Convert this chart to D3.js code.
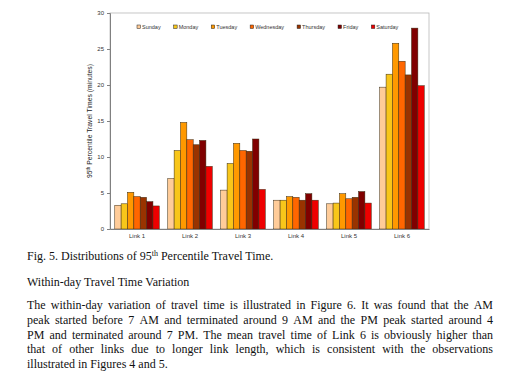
<!DOCTYPE html>
<html>
<head>
<meta charset="utf-8">
<script src="https://cdn.jsdelivr.net/npm/d3@7"></script>
<style>
  body { margin: 0; background: #fff; }
  svg { display: block; }
</style>
</head>
<body>
<div class="chart"></div>
<script>
var svgWidth = 510;
var svgHeight = 383;

// Data
var links = ["Link 1", "Link 2", "Link 3", "Link 4", "Link 5", "Link 6"];
var days = ["Sunday", "Monday", "Tuesday", "Wednesday", "Thursday", "Friday", "Saturday"];
var sunday    = [3.3, 7.0, 5.4, 4.0, 3.5, 19.7];
var monday    = [3.5, 10.9, 9.1, 4.0, 3.6, 21.5];
var tuesday   = [5.1, 14.8, 11.9, 4.5, 4.9, 25.8];
var wednesday = [4.5, 12.4, 10.9, 4.4, 4.2, 23.3];
var thursday  = [4.4, 11.7, 10.8, 4.0, 4.4, 21.4];
var friday    = [3.8, 12.3, 12.5, 4.9, 5.2, 27.9];
var saturday  = [3.2, 8.7, 5.5, 4.0, 3.6, 19.9];
var yTicks = [0, 5, 10, 15, 20, 25, 30];

var caption = "Fig. 5. Distributions of 95";
var heading = "Within-day Travel Time Variation";
var paragraph = [
  "The within-day variation of travel time is illustrated in Figure 6. It was found that the AM",
  "peak started before 7 AM and terminated around 9 AM and the PM peak started around 4",
  "PM and terminated around 7 PM. The mean travel time of Link 6 is obviously higher than",
  "that of other links due to longer link length, which is consistent with the observations",
  "illustrated in Figures 4 and 5."
];

var series = [sunday, monday, tuesday, wednesday, thursday, friday, saturday];
var colors = ["#ffcc99", "#f8c61a", "#ff9900", "#ff6600", "#993300", "#800000", "#ee0000"];

var plot = { left: 110, right: 429, top: 13, bottom: 229 };

var svg = d3.select(".chart")
  .append("svg")
  .attr("width", svgWidth)
  .attr("height", svgHeight);

// Scales
var x0 = d3.scaleBand()
  .domain(links)
  .range([plot.left, plot.right])
  .paddingInner(0.16)
  .paddingOuter(0.09);

var x1 = d3.scaleBand()
  .domain(days)
  .range([0, x0.bandwidth()]);

var y = d3.scaleLinear()
  .domain([0, 30])
  .range([plot.bottom, plot.top]);

var color = d3.scaleOrdinal().domain(days).range(colors);

// frame
svg.append("rect")
  .attr("x", plot.left)
  .attr("y", plot.top)
  .attr("width", plot.right - plot.left)
  .attr("height", plot.bottom - plot.top)
  .attr("fill", "none")
  .attr("stroke", "#b8b8b8")
  .attr("stroke-width", 0.8);

// bars
var rows = links.map(function(l, i) {
  return { link: l, values: days.map(function(d, j) { return { day: d, value: series[j][i] }; }) };
});

var groups = svg.selectAll(".grp")
  .data(rows)
  .enter()
  .append("g")
  .attr("transform", d => `translate(${x0(d.link)},0)`);

groups.selectAll("rect")
  .data(d => d.values)
  .enter()
  .append("rect")
  .attr("x", d => x1(d.day))
  .attr("y", d => y(d.value))
  .attr("width", x1.bandwidth())
  .attr("height", d => y(0) - y(d.value))
  .attr("fill", d => color(d.day))
  .attr("stroke", "#3a2a10")
  .attr("stroke-width", 0.5);

// axes
var yAxis = d3.axisLeft(y).tickValues(yTicks).tickSize(3).tickPadding(3);
var gy = svg.append("g")
  .attr("transform", `translate(${plot.left},0)`)
  .call(yAxis);
gy.select(".domain").attr("stroke", "#808080");
gy.selectAll(".tick line").attr("stroke", "#808080");
gy.selectAll("text")
  .attr("font-family", "Liberation Sans, Arial, sans-serif")
  .attr("font-size", 6)
  .attr("fill", "#333");

var xAxis = d3.axisBottom(x0).tickSize(0).tickPadding(5);
var gx = svg.append("g")
  .attr("transform", `translate(0,${plot.bottom})`)
  .call(xAxis);
gx.select(".domain").attr("stroke", "#808080");
gx.selectAll("text")
  .attr("font-family", "Liberation Sans, Arial, sans-serif")
  .attr("font-size", 6)
  .attr("fill", "#333");

// y label
var yl = svg.append("text")
  .attr("transform", `translate(92,${(plot.top + plot.bottom) / 2}) rotate(-90)`)
  .attr("text-anchor", "middle")
  .attr("font-family", "Liberation Sans, Arial, sans-serif")
  .attr("font-size", 6.8)
  .attr("fill", "#222");
yl.append("tspan").text("95");
yl.append("tspan").attr("font-size", 4.5).attr("dy", -2.5).text("th");
yl.append("tspan").attr("dy", 2.5).text(" Percentile Travel Times (minutes)");

// legend
var legend = svg.append("g").attr("font-family", "Liberation Sans, Arial, sans-serif").attr("font-size", 5.5);
var lx = 137;
days.forEach(function(d) {
  var item = legend.append("g").attr("transform", `translate(${lx},27)`);
  item.append("rect")
    .attr("x", 0).attr("y", -2)
    .attr("width", 3.5).attr("height", 3.5)
    .attr("fill", color(d))
    .attr("stroke", "#222")
    .attr("stroke-width", 0.5);
  var t = item.append("text")
    .attr("x", 5).attr("y", 1.8)
    .attr("fill", "#333")
    .text(d);
  lx += 5 + t.node().getComputedTextLength() + 13;
});

// caption and body text
var serif = "Liberation Serif, Times New Roman, serif";
var fs = 12;
var cap = svg.append("text")
  .attr("x", 27).attr("y", 260)
  .attr("font-family", serif)
  .attr("font-size", fs)
  .attr("fill", "#111");
cap.append("tspan").text(caption);
cap.append("tspan").attr("font-size", 8).attr("dy", -4).text("th");
cap.append("tspan").attr("dy", 4).text(" Percentile Travel Time.");

svg.append("text")
  .attr("x", 27).attr("y", 286)
  .attr("font-family", serif)
  .attr("font-size", fs)
  .attr("fill", "#111")
  .text(heading);

var left = 27, right = 493;
paragraph.forEach(function(line, i) {
  var t = svg.append("text")
    .attr("y", 309 + i * 14.8)
    .attr("font-family", serif)
    .attr("font-size", fs)
    .attr("fill", "#111");
  var words = line.split(" ");
  var spans = words.map(w => t.append("tspan").text(w));
  var widths = spans.map(s => s.node().getComputedTextLength());
  var total = d3.sum(widths);
  var gap = (i < paragraph.length - 1) ? (right - left - total) / (words.length - 1) : 3;
  var cx = left;
  spans.forEach(function(s, k) {
    s.attr("x", cx);
    cx += widths[k] + gap;
  });
});
</script>
</body>
</html>
